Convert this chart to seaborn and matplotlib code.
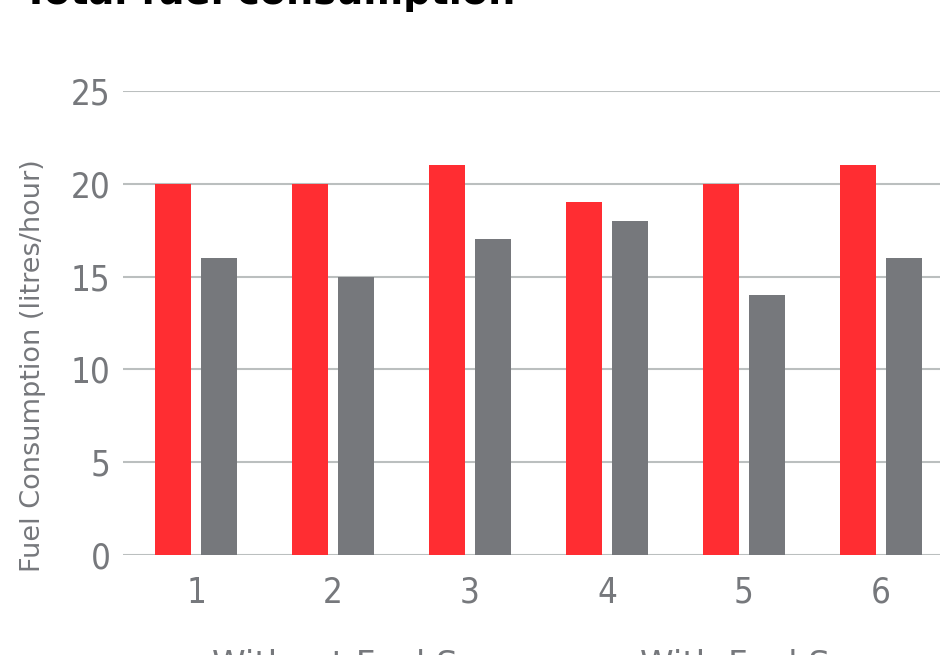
import pandas as pd
import matplotlib
matplotlib.use("Agg")
import matplotlib.pyplot as plt
import seaborn as sns

# Chart data
runs = ["1", "2", "3", "4", "5", "6"]
without_saver = [20, 20, 21, 19, 20, 21]
with_saver = [16, 15, 17, 18, 14, 16]
series_names = ["Without Fuel Saver", "With Fuel Saver"]
y_ticks = [0, 5, 10, 15, 20, 25]

RED = "#ff2d32"
GREY = "#76787c"
TEXT_GREY = "#76787c"
GRID = "#bbbfbf"

sns.set_theme(style="white")
plt.rcParams['font.family'] = ['DejaVu Sans']

df = pd.DataFrame({
    "run": runs * 2,
    "value": without_saver + with_saver,
    "series": [series_names[0]] * len(runs) + [series_names[1]] * len(runs),
})

W, H = 940, 655
fig = plt.figure(figsize=(W / 100, H / 100), dpi=100)

# axes placed in pixel terms; right edge runs past the figure like the reference crop
left_px, bottom_px, top_px = 123, 555, 91
step_px = 137
x_lo, x_hi = -73 / step_px, 5.5
ax_w = (x_hi - x_lo) * step_px
ax = fig.add_axes([left_px / W, (H - bottom_px) / H, ax_w / W, (bottom_px - top_px) / H])

sns.barplot(data=df, x="run", y="value", hue="series", order=runs,
            hue_order=series_names, palette=[RED, GREY], width=0.67, gap=0.217,
            saturation=1, linewidth=0, legend=False, ax=ax, zorder=3)

ax.set_ylim(0, 25)
ax.set_xlim(x_lo, x_hi)
ax.set_yticks(y_ticks)
ax.yaxis.grid(True, color=GRID, linewidth=1.5, zorder=0)
ax.set_axisbelow(True)
for s in ax.spines.values():
    s.set_visible(False)
ax.tick_params(axis="both", length=0, labelsize=25, labelcolor=TEXT_GREY)
ax.tick_params(axis="y", pad=9)
ax.tick_params(axis="x", pad=15)
for lab in ax.get_xticklabels() + ax.get_yticklabels():
    lab.set_fontstretch("condensed")
ax.set_xlabel("")
ax.set_ylabel("")

fig.text(33 / W, 1 - 366 / H, "Fuel Consumption (litres/hour)", rotation=90,
         ha="center", va="center", fontsize=19.5, color=TEXT_GREY)

fig.text(23 / W, 1 - 4 / H, "Total fuel consumption", ha="left", va="baseline",
         fontsize=27.5, fontweight="bold", color="black")

# legend labels sit at the bottom edge, mostly cut off as in the reference
fig.text(212 / W, 1 - 649 / H, series_names[0], ha="left", va="top",
         fontsize=24.5, color=TEXT_GREY)
fig.text(640 / W, 1 - 649 / H, series_names[1], ha="left", va="top",
         fontsize=24.5, color=TEXT_GREY)

fig.savefig("out.png", dpi=100)
